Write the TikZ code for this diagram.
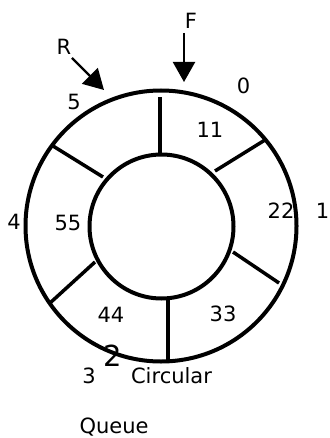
\documentclass[tikz,border=0pt]{standalone}
\usepackage{fontspec}
\setmainfont{DejaVu Sans}
\usetikzlibrary{arrows.meta}
\begin{document}
\begin{tikzpicture}[x=1pt,y=-1pt,
  ring/.style={line width=4pt},
  divider/.style={line width=3.5pt},
  pointer/.style={line width=2.2pt,-{Triangle[length=20pt,width=22pt]}},
  lbl/.style={inner sep=0pt,font=\fontsize{21}{25}\selectfont},
  biglbl/.style={inner sep=0pt,font=\fontsize{29}{34}\selectfont}]
\useasboundingbox (0,0) rectangle (329,438);
% rings
\node[ring,draw,circle,minimum size=271pt,inner sep=0pt] (outer) at (161,226) {};
\node[ring,draw,circle,minimum size=144pt,inner sep=0pt] (inner) at (161.5,226.5) {};
% dividers
\coordinate (d1a) at (160,155); \coordinate (d1b) at (160,97);
\coordinate (d2a) at (215,171); \coordinate (d2b) at (265,140);
\coordinate (d3a) at (233,252); \coordinate (d3b) at (279,283);
\coordinate (d4a) at (168,298); \coordinate (d4b) at (168,362);
\coordinate (d5a) at (95,262);  \coordinate (d5b) at (50,303);
\coordinate (d6a) at (103,177); \coordinate (d6b) at (53,146);
\foreach \i in {1,...,6} \draw[divider] (d\i a) -- (d\i b);
% pointers
\node[lbl] (R) at (64,47) {R};
\node[lbl] (F) at (191,21) {F};
\coordinate (Rs) at (72,58); \coordinate (Rt) at (104,90);
\coordinate (Fs) at (184,33); \coordinate (Ft) at (184,82);
\draw[pointer] (Rs) -- (Rt);
\draw[pointer] (Fs) -- (Ft);
% index labels
\node[lbl] (i0) at (243.5,86) {0};
\node[lbl] (i1) at (322.5,211) {1};
\node[biglbl] (i2) at (113,355.5) {2};
\node[lbl] (i3) at (89,376) {3};
\node[lbl] (i4) at (14,222) {4};
\node[lbl] (i5) at (74,102) {5};
% values
\node[lbl] (v11) at (210,130) {11};
\node[lbl] (v22) at (281,211) {22};
\node[lbl] (v33) at (223,314) {33};
\node[lbl] (v44) at (111,315) {44};
\node[lbl] (v55) at (68,223) {55};
% caption
\node[lbl,anchor=base] (c1) at (171.5,383) {Circular};
\node[lbl,anchor=base] (c2) at (114,433) {Queue};
\end{tikzpicture}
\end{document}
